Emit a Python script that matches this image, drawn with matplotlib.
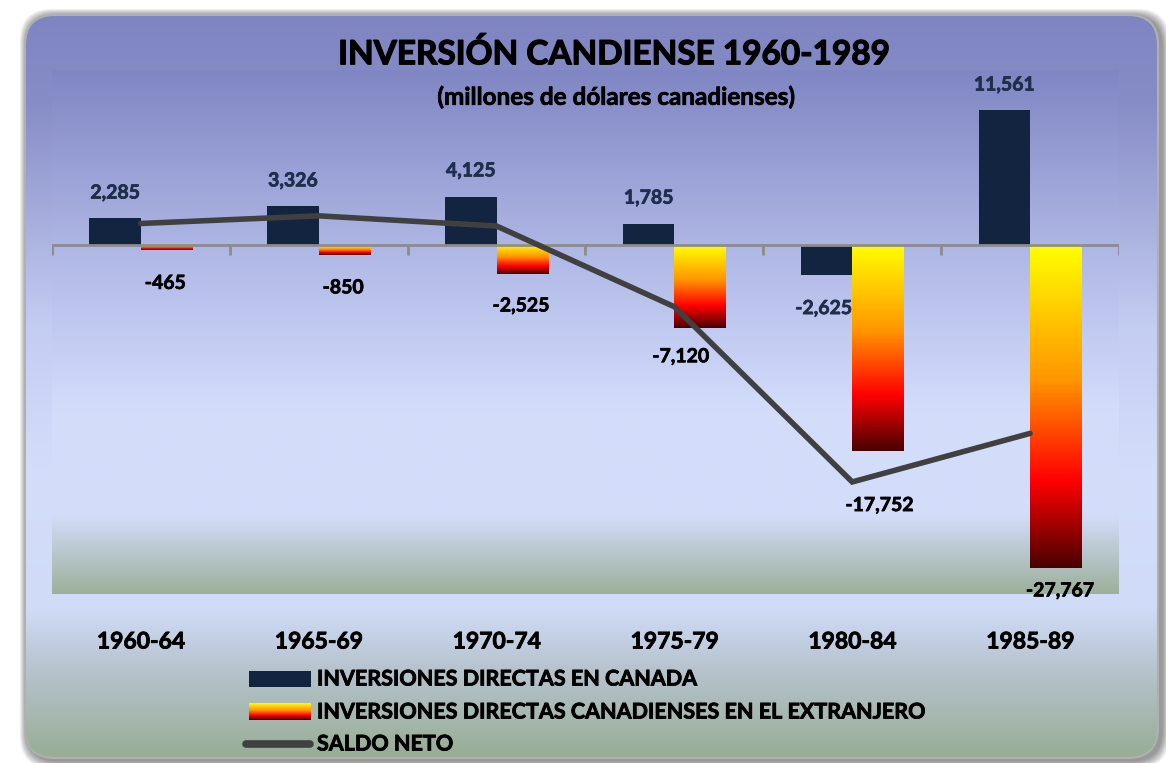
import numpy as np
import matplotlib
matplotlib.use("Agg")
import matplotlib.pyplot as plt
import matplotlib.patheffects as pe
from matplotlib.colors import LinearSegmentedColormap, to_rgb
from matplotlib.patches import FancyBboxPatch, Rectangle

# datos (millones de dolares canadienses)
periodos = ["1960-64", "1965-69", "1970-74", "1975-79", "1980-84", "1985-89"]
en_canada = [2285, 3326, 4125, 1785, -2625, 11561]
en_extranjero = [-465, -850, -2525, -7120, -17752, -27767]
saldo_neto = [1820, 2476, 1600, -5335, -20377, -16206]

serie_nombres = ["INVERSIONES DIRECTAS EN CANADA",
                 "INVERSIONES DIRECTAS CANADIENSES EN EL EXTRANJERO",
                 "SALDO NETO"]

W, H = 1166, 763
plt.rcParams['font.family'] = ["Lato", "DejaVu Sans"]

azul = "#12243f"
gris_linea = "#404040"
fuego = LinearSegmentedColormap.from_list(
    "fuego", [(0, "#4a0000"), (0.27, "#ff0000"), (0.58, "#ff9500"), (1, "#ffff00")])


def grueso(c, lw=0.7):
    # Calibri bold se ve mas pesado que Lato bold
    return [pe.withStroke(linewidth=lw, foreground=c)]


def vgrad(stops, n=400):
    # stops: (fraccion desde arriba, color) -> imagen columna
    pos = np.linspace(0, 1, n)
    fr = [s[0] for s in stops]
    cols = np.array([to_rgb(s[1]) for s in stops])
    img = np.stack([np.interp(pos, fr, cols[:, k]) for k in range(3)], axis=1)
    return img[:, None, :]


fig = plt.figure(figsize=(W / 100, H / 100), dpi=100)
fig.patch.set_facecolor("white")

# fondo con esquinas redondeadas
bg = fig.add_axes([0, 0, 1, 1])
bg.set_xlim(0, W)
bg.set_ylim(H, 0)
bg.axis("off")
px0, py0, px1, py1 = 25, 15, 1158, 758
for i in range(12, 0, -1):
    sh = FancyBboxPatch((px0 + 2 - i * 0.6, py0 + 1 - i * 0.6),
                        px1 - px0 + i * 1.2 + 2, py1 - py0 + i * 1.2 + 2,
                        boxstyle="round,pad=0,rounding_size=32",
                        fc="#000000", ec="none", alpha=0.04)
    bg.add_patch(sh)
panel = FancyBboxPatch((px0, py0), px1 - px0, py1 - py0,
                       boxstyle="round,pad=0,rounding_size=30",
                       fc="none", ec="#b0b0b0", lw=1.5, zorder=3)
bg.add_patch(panel)
im = bg.imshow(vgrad([(0, "#7e85c1"), (0.12, "#878dc6"), (0.42, "#c4cdf2"),
                      (0.62, "#d4defb"), (0.80, "#d0dbf8"), (0.88, "#b7c4cf"),
                      (1, "#97ad95")]),
               extent=(px0, px1, py1, py0), aspect="auto", zorder=1)
im.set_clip_path(panel)

# area del grafico
ax = fig.add_axes([52 / W, 1 - 594 / H, (1119 - 52) / W, (594 - 70) / H])
ax.set_xlim(-0.5, 5.5)
ax.set_ylim(-30000, 15000)
ax.imshow(vgrad([(0, "#7f86c3"), (0.35, "#b0b8e6"), (0.65, "#d3ddfb"),
                 (0.85, "#d3ddfa"), (1, "#9cb09b")]),
          extent=(-0.5, 5.5, -30000, 15000), aspect="auto", zorder=0)
for s in ax.spines.values():
    s.set_visible(False)
ax.set_yticks([])

x = np.arange(len(periodos))
w = 0.29
ax.bar(x - w / 2, en_canada, w, color=azul, zorder=2)
barras = ax.bar(x + w / 2, en_extranjero, w, color="none", zorder=2)
for b in barras:
    x0, y0 = b.get_x(), b.get_y()
    h = b.get_height()
    ax.imshow(np.linspace(0, 1, 300)[:, None], cmap=fuego, origin="lower",
              extent=(x0, x0 + b.get_width(), y0 + h, y0), aspect="auto", zorder=2)

ax.axhline(0, color="#8c8c8c", lw=2, zorder=3)
ax.vlines(np.arange(-0.5, 6), -850, 0, color="#8c8c8c", lw=2, zorder=3)
ax.plot(x, saldo_neto, color=gris_linea, lw=4, solid_capstyle="round",
        solid_joinstyle="miter", zorder=4)

# etiquetas de datos
off_can = [(0, 18), (0, 18), (0, 18.5), (0, 18.5), (-2, -24), (0, 18)]
for xi, v, o in zip(x, en_canada, off_can):
    ax.annotate(f"{v:,}", (xi - w / 2, v), xytext=o, textcoords="offset points",
                ha="center", va="center", fontsize=14, fontweight="bold",
                color="#1f2e4b", zorder=5, path_effects=grueso("#1f2e4b", 0.5))
off_ext = [(-1, -24), (-1, -24), (-1, -23), (-14, -21), (1, -39), (3, -16.5)]
for xi, v, o in zip(x, en_extranjero, off_ext):
    ax.annotate(f"{v:,}", (xi + w / 2, v), xytext=o, textcoords="offset points",
                ha="center", va="center", fontsize=14, fontweight="bold",
                color="black", zorder=5, path_effects=grueso("black", 0.5))

ax.set_xticks(x, periodos)
ax.tick_params(axis="x", length=0, pad=27)
for t in ax.get_xticklabels():
    t.set_fontsize(16.5)
    t.set_fontweight("bold")
    t.set_path_effects(grueso("black", 0.6))

# titulo
fig.text(614 / W, 1 - 54 / H, "INVERSIÓN CANDIENSE 1960-1989", ha="center",
         va="center", fontsize=24, fontweight="bold", path_effects=grueso("black", 0.9))
fig.text(616 / W, 1 - 97 / H, "(millones de dólares canadienses)", ha="center",
         va="center", fontsize=17.5, fontweight="bold", path_effects=grueso("black", 0.5))

# leyenda
lg = fig.add_axes([0, 0, 1, 1], facecolor="none")
lg.axis("off")
lg.add_patch(Rectangle((249, 671), 62, 16, fc=azul, ec="none"))
lg.imshow(np.linspace(0, 1, 100)[:, None], cmap=fuego, origin="lower",
          extent=(249, 311, 720, 703), aspect="auto")
lg.plot([246, 310], [744, 744], color=gris_linea, lw=5.5, solid_capstyle="round")
lg.set_xlim(0, W)
lg.set_ylim(H, 0)
for yy, txt in zip([679, 712, 744], serie_nombres):
    lg.text(317, yy, txt, ha="left", va="center", fontsize=15.5, fontweight="bold",
            path_effects=grueso("black", 0.6))

fig.savefig("out.png", dpi=100)
